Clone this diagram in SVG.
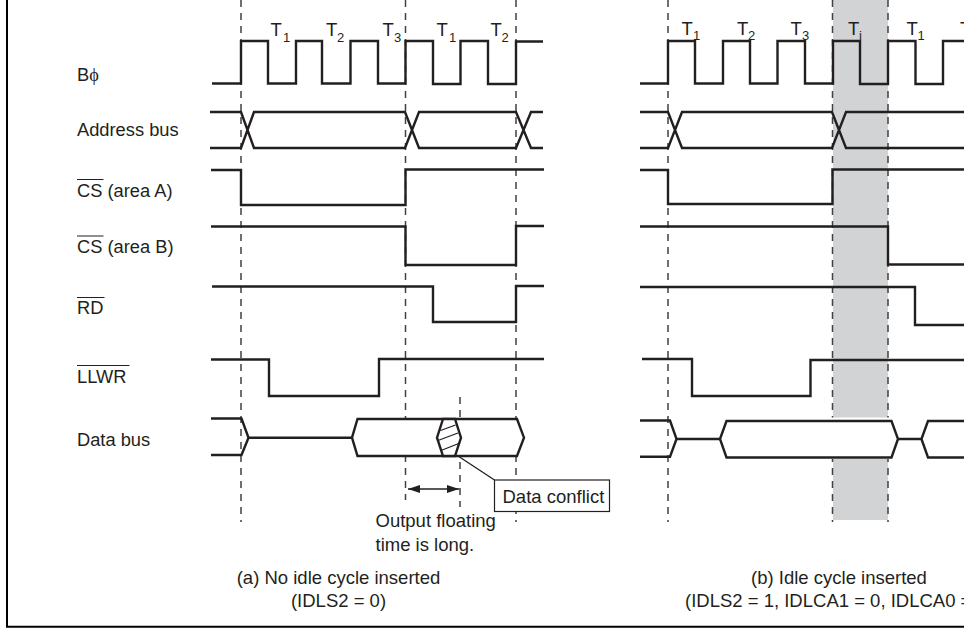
<svg xmlns="http://www.w3.org/2000/svg" width="964" height="628" viewBox="0 0 964 628">
<style>
text{font-family:"Liberation Sans",Arial,sans-serif;fill:#231f20;font-size:18.3px}
.sig{fill:none;stroke:#231f20;stroke-width:2.4;stroke-linejoin:miter}
.hex{fill:#fff;stroke:#231f20;stroke-width:2.4}
.thin{fill:none;stroke:#231f20;stroke-width:1.3}
.dash{fill:none;stroke:#414042;stroke-width:1.5;stroke-dasharray:7 6}
.bar{fill:none;stroke:#231f20;stroke-width:1}
.t{font-size:18.5px}
.s{font-size:13px}
.c{text-anchor:middle}
.cap{font-size:18.5px}
</style>
<defs>
<marker id="ah" viewBox="0 0 12 8" refX="12" refY="4" markerWidth="12" markerHeight="8" markerUnits="userSpaceOnUse" orient="auto-start-reverse"><path d="M0 0L12 4L0 8Z" fill="#231f20"/></marker>
</defs>
<rect width="964" height="628" fill="#fff"/>
<path d="M7 0V626.700H964" fill="none" stroke="#000" stroke-width="2"/>
<rect id="idle-band" x="833" y="0" width="55" height="520" fill="#d1d3d4"/>
<g id="guides">
<path class="dash" d="M241 0V522M405.500 0V500M516 0V522M460 397V507M668 0V522M832.500 0V522M888 0V522"/>
</g>
<g id="connectors">
<path id="panel-a-clock" class="sig" d="M212 83.500H241V41H268V83.500H296V41H322V83.500H350.500V41H378V83.500H405.500V41H433V84H460.500V41H488V84H516V41.500H543"/>
<path id="panel-a-addr" class="sig" d="M210 112H241L254 148H405L419 112H516L531 148H543M210 148H241L254 112H405L419 148H516L531 112H543"/>
<path id="panel-a-csa" class="sig" d="M211 170H241V205H405.500V169.500H544"/>
<path id="panel-a-csb" class="sig" d="M211 226.500H405.500V265H516V226H544"/>
<path id="panel-a-rd" class="sig" d="M212 286.500H433V322H516V286H544"/>
<path id="panel-a-wr" class="sig" d="M211 359.500H269V396H379V359H544"/>
<path id="panel-a-data-hex" class="hex" d="M352 437.700L357.500 419H517L524 437.700L517 456H357.500Z"/>
<path id="panel-a-data" class="sig" d="M211 418.500H241.500L248.500 437.700H352M211 455H241.500L248.500 437.700"/>
<path id="conflict" class="hex" d="M443 419L437 437.700L443 456H455L461 437.700L455 419Z"/>
<path id="hatch" class="thin" d="M440.500 430.500L455.500 425M438 440.500L458 433M441 450.500L460 443"/>
<path id="leader" class="thin" d="M458 456L494.500 480"/>
<path id="float-arrow" class="thin" d="M408 489H459" marker-start="url(#ah)" marker-end="url(#ah)"/>
<path id="panel-b-clock" class="sig" d="M640 83.500H668V41H695V83.500H723V41H750V83.500H777.500V41H805V83.500H833V41H860V84H888V41H915.500V84H943V41H964"/>
<path id="panel-b-addr" class="sig" d="M640 112H668L682 148H832L846 112H964M640 148H668L682 112H832L846 148H964"/>
<path id="panel-b-csa" class="sig" d="M640 170H668V204H832.500V169.500H964"/>
<path id="panel-b-csb" class="sig" d="M640 226.500H888V264.500H964"/>
<path id="panel-b-rd" class="sig" d="M640 287H915V325H964"/>
<path id="panel-b-wr" class="sig" d="M642 359H692V396H810.500V360H964"/>
<path id="panel-b-data-hex" d="M720 439L727 417.500H891L898 439L891 459H727Z" fill="#fff"/>
<path id="panel-b-data" class="hex" d="M720 439L726.500 421H891.500L898 439L891.500 457.500H726.500Z"/>
<path id="panel-b-data-rest" class="sig" d="M640 420.500H670L676.500 439H720M640 456.700H670L676.500 439M898 439H921.500L928 421H964M921.500 439L928 457.500H964"/>
</g>
<g id="labels">
<text x="77" y="81">B<tspan font-family="'Liberation Serif',serif">ϕ</tspan></text>
<text x="77" y="136">Address bus</text>
<text x="77" y="197">CS (area A)</text>
<text x="77" y="253">CS (area B)</text>
<text x="77" y="314">RD</text>
<text x="77" y="382.500">LLWR</text>
<text x="77" y="446">Data bus</text>
<path class="bar" d="M77 179.500H103.500M77 236H103.500M77 297.500H104.500M77 365.500H129.500"/>
</g>
<g id="cycle-labels">
<text class="t" x="270.500" y="36">T</text><text class="s" x="283" y="42">1</text>
<text class="t" x="326" y="36">T</text><text class="s" x="337" y="42">2</text>
<text class="t" x="382.500" y="36">T</text><text class="s" x="394" y="42">3</text>
<text class="t" x="436.500" y="36">T</text><text class="s" x="449" y="42">1</text>
<text class="t" x="490.500" y="36">T</text><text class="s" x="501.500" y="42">2</text>
<text class="t" x="681.500" y="34.500">T</text><text class="s" x="693" y="39.500">1</text>
<text class="t" x="737" y="34.500">T</text><text class="s" x="748" y="39.500">2</text>
<text class="t" x="790.500" y="34.500">T</text><text class="s" x="802" y="39.500">3</text>
<text class="t" x="848" y="34.500">T</text><text class="s" x="859" y="39.500">i</text>
<text class="t" x="906.500" y="34.500">T</text><text class="s" x="917.500" y="39.500">1</text>
<text class="t" x="960" y="34.500">T</text>
</g>
<g id="data-conflict-box">
<rect x="494.500" y="480" width="115" height="31.500" fill="#fff" stroke="#231f20" stroke-width="1.200"/>
<text x="502.500" y="502.500" class="cap">Data conflict</text>
</g>
<g id="notes">
<text x="375.500" y="527" class="cap">Output floating</text>
<text x="375.500" y="550.500" class="cap">time is long.</text>
<text x="338.500" y="584" class="cap c">(a) No idle cycle inserted</text>
<text x="338.500" y="607" class="cap c">(IDLS2 = 0)</text>
<text x="839" y="584" class="cap c">(b) Idle cycle inserted</text>
<text x="685" y="607" class="cap">(IDLS2 = 1, IDLCA1 = 0, IDLCA0 =</text>
</g>
</svg>
